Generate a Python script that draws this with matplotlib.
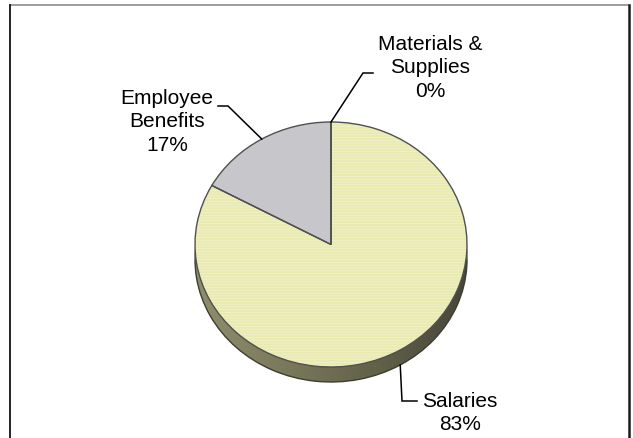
import numpy as np
import matplotlib
matplotlib.use("Agg")
import matplotlib.pyplot as plt
from matplotlib.patches import PathPatch
from matplotlib.lines import Line2D
from matplotlib.colors import LinearSegmentedColormap

# ---------------------------------------------------------------------------
# Data
# ---------------------------------------------------------------------------
categories = ["Materials &\nSupplies", "Employee\nBenefits", "Salaries"]
shares     = [0.0, 17.0, 83.0]

# ---------------------------------------------------------------------------
# Style
# ---------------------------------------------------------------------------
W_PX, H_PX = 633, 439
DPI        = 100
CX, CY     = 331.0, 245.5      # pie centre, pixels from top-left
RX, RY     = 136.0, 122.5      # top-face radii in pixels
DEPTH      = 15.0 / RY         # thickness of the disc, in pie units

face_colors = ["#9aa0b4", "#c7c7cb", "#e8eab0"]
side_colors = ["#7a7a80", "#8a8a8e", "#6f6e52"]
EDGE        = "#505050"
FONT        = "Liberation Sans"

plt.rcParams["hatch.color"] = "#f1f2cc"
plt.rcParams["hatch.linewidth"] = 0.6

fig = plt.figure(figsize=(W_PX / DPI, H_PX / DPI), dpi=DPI)
ax = fig.add_axes([0, 0, 1, 1])

# side of the disc: same slices pushed down by the depth
side, _ = ax.pie(shares, startangle=90, counterclock=True, colors=side_colors,
                 center=(0, -DEPTH), radius=1, wedgeprops=dict(linewidth=0))
shade = LinearSegmentedColormap.from_list(
    "shade", ["#8f8e6c", "#7a795b", "#626149", "#47463a"])
grad = np.linspace(0, 1, 256)[None, :]
im = ax.imshow(grad, extent=(-1, 1, -1 - DEPTH, 1 - DEPTH), cmap=shade,
               aspect="auto", zorder=1.1)
im.set_clip_path(side[2])
for w in side:
    ax.add_patch(PathPatch(w.get_path(), transform=w.get_transform(),
                           fill=False, edgecolor="#3e3e34", lw=1.0, zorder=1.2))

# top face
top, _ = ax.pie(shares, startangle=90, counterclock=True, colors=face_colors,
                radius=1, hatch=[None, None, "------"],
                wedgeprops=dict(linewidth=0))
for w in top:
    w.set_zorder(2)
    ax.add_patch(PathPatch(w.get_path(), transform=w.get_transform(),
                           fill=False, edgecolor=EDGE, lw=1.0, zorder=2.2))

# ---------------------------------------------------------------------------
# Labels with elbow leader lines
# ---------------------------------------------------------------------------
def px(x, y):
    """pixel position -> pie units"""
    return (x - CX) / RX, (CY - y) / RY

# (elbow, line end, text centre) in pixels
label_layout = [
    ((363, 74), (373, 74), (430, 68)),
    ((228, 107), (218, 107), (167, 122)),
    ((402, 402), (417, 402), (460, 413)),
]

for w, cat, val, (elbow, end, txt) in zip(top, categories, shares, label_layout):
    mid = np.deg2rad((w.theta1 + w.theta2) / 2)
    sx, sy = np.cos(mid), np.sin(mid)
    if sy < 0:
        sy -= DEPTH
    ex, ey = px(*elbow)
    lx, ly = px(*end)
    ax.plot([sx, ex, lx], [sy, ey, ly], color="black", lw=1.1, zorder=3,
            solid_joinstyle="miter")
    tx, ty = px(*txt)
    ax.text(tx, ty, f"{cat}\n{val:.0f}%", ha="center", va="center",
            fontsize=15, family=FONT, linespacing=1.32, color="black")

ax.set_aspect("auto")
ax.set_xlim(-CX / RX, (W_PX - CX) / RX)
ax.set_ylim(-(H_PX - CY) / RY, CY / RY)
ax.axis("off")

# chart frame
fx = lambda x: x / W_PX
fy = lambda y: 1 - y / H_PX
fig.add_artist(Line2D([fx(10), fx(628)], [fy(6), fy(6)], color="#8c8c8c", lw=1.2))
fig.add_artist(Line2D([fx(10), fx(10)], [fy(6), fy(445)], color="black", lw=1.2))
fig.add_artist(Line2D([fx(628.5), fx(628.5)], [fy(6), fy(445)], color="#1a1a1a", lw=1.8))

fig.savefig("out.png", dpi=DPI)
